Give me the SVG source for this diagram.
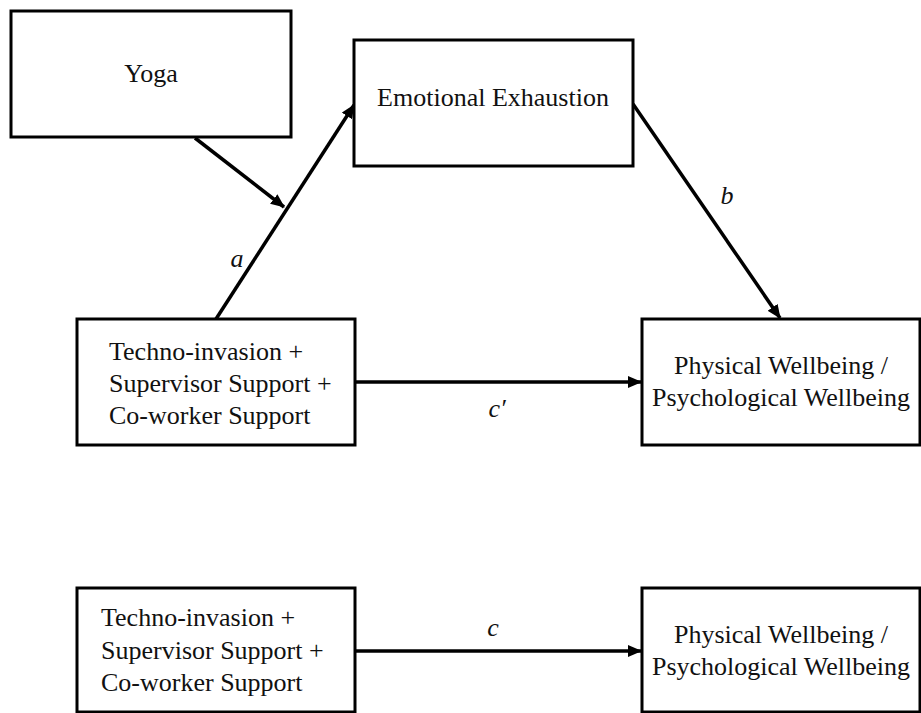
<svg xmlns="http://www.w3.org/2000/svg" width="921" height="713" viewBox="0 0 921 713">
<style>
.box{fill:#fff;stroke:#000;stroke-width:3}
.t{font-family:"Liberation Serif","Times New Roman",serif;font-size:26px;fill:#111}
.c{text-anchor:middle}
.lbl{font-family:"Liberation Serif","Times New Roman",serif;font-size:26px;font-style:italic;fill:#111;text-anchor:middle}
.arr{stroke:#000;stroke-width:3.5;fill:none;marker-end:url(#ah)}
</style>
<defs>
<marker id="ah" markerUnits="userSpaceOnUse" markerWidth="14" markerHeight="12" refX="13" refY="6" orient="auto">
<path d="M0,0 L14,6 L0,12 z" fill="#000"/>
</marker>
</defs>
<rect width="921" height="713" fill="#fff"/>
<g id="connectors">
<line class="arr" x1="216" y1="319" x2="354" y2="105"/>
<line class="arr" x1="195" y1="138" x2="284" y2="207"/>
<line class="arr" x1="633" y1="104" x2="780" y2="318"/>
<line class="arr" x1="355" y1="382" x2="641" y2="382"/>
<line class="arr" x1="355" y1="651" x2="641" y2="651"/>
<text class="lbl" x="237" y="267">a</text>
<text class="lbl" x="727" y="204">b</text>
<text class="lbl" x="497" y="417">c′</text>
<text class="lbl" x="493" y="636">c</text>
</g>
<g id="yoga">
<rect class="box" x="11" y="11" width="280" height="126"/>
<text class="t c" x="151" y="82">Yoga</text>
</g>
<g id="exhaustion">
<rect class="box" x="354" y="40" width="279" height="126"/>
<text class="t c" x="493" y="106">Emotional Exhaustion</text>
</g>
<g id="predictors">
<rect class="box" x="77" y="319" width="278" height="126"/>
<text class="t" x="109" y="360">Techno-invasion +</text>
<text class="t" x="109" y="392">Supervisor Support +</text>
<text class="t" x="109" y="424">Co-worker Support</text>
</g>
<g id="wellbeing">
<rect class="box" x="642" y="319" width="278" height="126"/>
<text class="t c" x="781" y="374">Physical Wellbeing /</text>
<text class="t c" x="781" y="406">Psychological Wellbeing</text>
</g>
<g id="predictors-total">
<rect class="box" x="77" y="588" width="278" height="124"/>
<text class="t" x="101" y="626">Techno-invasion +</text>
<text class="t" x="101" y="659">Supervisor Support +</text>
<text class="t" x="101" y="691">Co-worker Support</text>
</g>
<g id="wellbeing-total">
<rect class="box" x="642" y="588" width="278" height="124"/>
<text class="t c" x="781" y="643">Physical Wellbeing /</text>
<text class="t c" x="781" y="675">Psychological Wellbeing</text>
</g>
</svg>
